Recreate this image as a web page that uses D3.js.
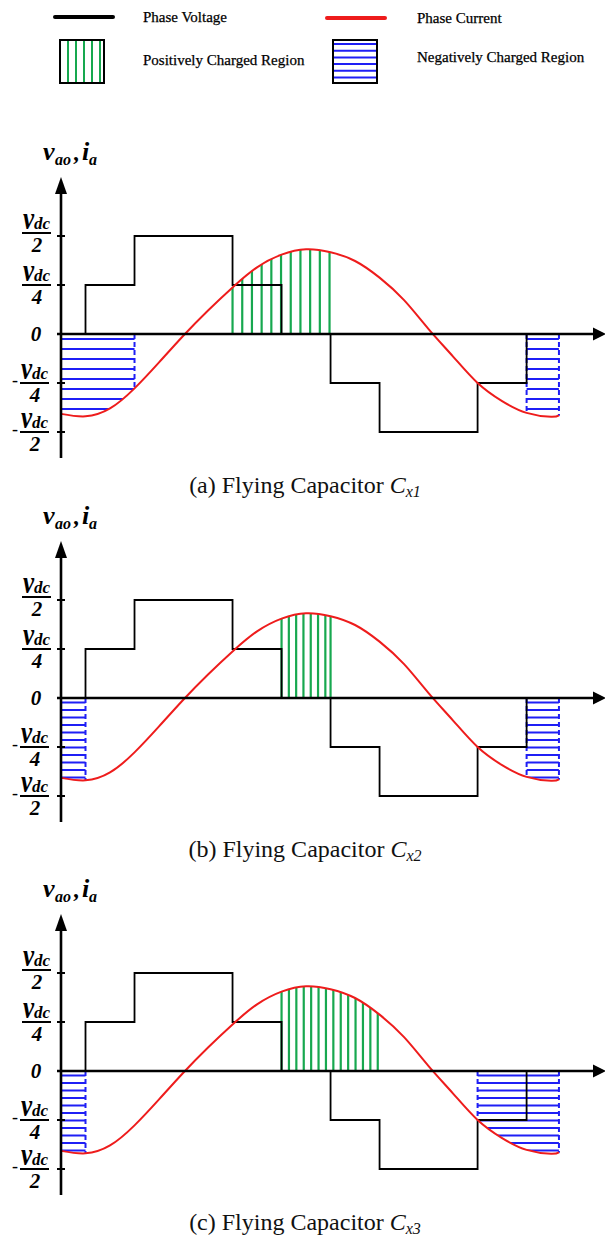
<!DOCTYPE html>
<html>
<head>
<meta charset="utf-8">
<script src="https://cdn.jsdelivr.net/npm/d3@7"></script>
<style>
  html, body { margin: 0; padding: 0; background: #fff; }
  svg { display: block; }
</style>
</head>
<body>
<svg id="chart" width="605" height="1241"></svg>
<script>
// ---------- data ----------
// Phase angle is measured in switching steps (one step = one dwell of a voltage level).
const voltageTimes  = [0, 0.5, 1.5, 3.5, 4.5, 5.5, 6.5, 8.5, 9.5, 10.16];
const voltageLevels = [0, 1, 2, 1, 0, -1, -2, -1, 0, 0];          // multiples of vdc/4

const currentTimes  = [0, 0.5, 1.0, 1.5, 2.0, 2.5, 3.0, 3.5, 4.0, 4.5, 5.0, 5.5,
                       6.0, 6.5, 7.0, 7.5, 8.0, 8.5, 9.0, 9.5, 10.0, 10.16];
const currentValues = [-1.63, -1.68, -1.52, -1.11, -0.58, -0.03, 0.48, 0.95, 1.36, 1.62, 1.73, 1.67,
                       1.49, 1.15, 0.69, 0.10, -0.46, -1.00, -1.37, -1.61, -1.69, -1.66];

const yTickValues = [2, 1, 0, -1, -2];
const yTickDenoms = ["2", "4", "", "4", "2"];

const panelLetters   = ["a", "b", "c"];
const capacitorIndex = ["1", "2", "3"];
const positiveSpans  = [[3.5, 5.5], [4.5, 5.5], [4.5, 6.5]];
const negativeSpans  = [[[0, 1.5], [9.5, 10.16]], [[0, 0.5], [9.5, 10.16]], [[0, 0.5], [8.5, 10.16]]];

const legendLabels = ["Phase Voltage", "Phase Current", "Positively Charged Region", "Negatively Charged Region"];

// ---------- styling / layout ----------
const BLACK = "#000", RED = "#ee1c1c", GREEN = "#17a84f", BLUE = "#1f1ff5";
const SERIF = "'Liberation Serif', 'Times New Roman', serif";
const zeroY = [334, 698, 1071];
const quarterPx = 49;
const hStep = [10, 7.5, 7.5], hOffset = [5, 4.5, 4.5];
const vStep = [9.7, 7.3, 7.4];

const svg = d3.select("#chart");
const x = d3.scaleLinear().domain([0, 11.12]).range([61, 606]);

// ---------- legend ----------
const legend = svg.append("g");
legend.append("line").attr("x1", 55).attr("x2", 113).attr("y1", 17).attr("y2", 17)
  .attr("stroke", BLACK).attr("stroke-width", 4).attr("stroke-linecap", "round");
legend.append("line").attr("x1", 327).attr("x2", 385).attr("y1", 18).attr("y2", 18)
  .attr("stroke", RED).attr("stroke-width", 4).attr("stroke-linecap", "round");

// positively charged swatch
legend.selectAll("line.gsw").data(d3.range(68, 103, 8)).join("line").attr("class", "gsw")
  .attr("x1", d => d).attr("x2", d => d).attr("y1", 40).attr("y2", 83)
  .attr("stroke", GREEN).attr("stroke-width", 2);
legend.append("rect").attr("x", 60).attr("y", 40).attr("width", 44).attr("height", 43)
  .attr("fill", "none").attr("stroke", BLACK).attr("stroke-width", 2);

// negatively charged swatch
legend.selectAll("line.bsw").data(d3.range(44, 82, 6.7)).join("line").attr("class", "bsw")
  .attr("x1", 333).attr("x2", 377).attr("y1", d => d).attr("y2", d => d)
  .attr("stroke", BLUE).attr("stroke-width", 2);
legend.append("rect").attr("x", 333).attr("y", 40).attr("width", 44).attr("height", 43)
  .attr("fill", "none").attr("stroke", BLACK).attr("stroke-width", 2);

const legendPos = [[143, 22], [417, 23], [143, 65], [417, 62]];
legend.selectAll("text").data(legendLabels).join("text")
  .attr("x", (d, i) => legendPos[i][0]).attr("y", (d, i) => legendPos[i][1])
  .attr("font-family", SERIF).attr("font-size", 15).attr("fill", "#000")
  .attr("stroke", "#000").attr("stroke-width", 0.25)
  .text(d => d);

// ---------- panels ----------
const currentPts = currentTimes.map((t, i) => [t, currentValues[i]]);
const voltagePts = voltageTimes.map((t, i) => [t, voltageLevels[i]]);

panelLetters.forEach((letter, k) => {
  const z = zeroY[k];
  const y = d3.scaleLinear().domain([-2, 2]).range([z + 2 * quarterPx, z - 2 * quarterPx]);
  const g = svg.append("g");

  const currentLine = d3.line().x(d => x(d[0])).y(d => y(d[1])).curve(d3.curveNatural);
  const currentArea = d3.area().x(d => x(d[0])).y0(y(0)).y1(d => y(d[1])).curve(d3.curveNatural);
  const voltageLine = d3.line().x(d => x(d[0])).y(d => y(d[1])).curve(d3.curveStepAfter);

  // region between the current and the time axis, used to bound the hatching
  const clipId = "charge-" + letter;
  svg.append("defs").append("clipPath").attr("id", clipId)
    .append("path").attr("d", currentArea(currentPts));

  const hatch = g.append("g").attr("clip-path", `url(#${clipId})`);

  // negatively charged regions: horizontal blue hatching
  negativeSpans[k].forEach(([s, e]) => {
    const rows = d3.range(y(0) + hOffset[k], y(-2.1), hStep[k]);
    hatch.selectAll(null).data(rows).join("line")
      .attr("x1", x(s)).attr("x2", x(e)).attr("y1", d => d).attr("y2", d => d)
      .attr("stroke", BLUE).attr("stroke-width", 2);
  });

  // positively charged region: vertical green hatching
  {
    const [s, e] = positiveSpans[k];
    const cols = d3.range(x(s), x(e) + 0.6, vStep[k]);
    if (x(e) - cols[cols.length - 1] > 2) cols.push(x(e));
    hatch.selectAll(null).data(cols).join("line")
      .attr("x1", d => d).attr("x2", d => d).attr("y1", y(0)).attr("y2", y(2.2))
      .attr("stroke", GREEN).attr("stroke-width", 2.2);
  }

  // phase current curve (raised above the staircase below; sampled here for region edges)
  const curPath = g.append("path").attr("d", currentLine(currentPts))
    .attr("fill", "none").attr("stroke", RED).attr("stroke-width", 2);
  const node = curPath.node();
  const len = node.getTotalLength();
  const samples = d3.range(0, len + 0.01, len / 800).map(l => node.getPointAtLength(Math.min(l, len)));
  samples.sort((a, b) => a.x - b.x);
  const bis = d3.bisector(p => p.x).left;
  const curveYAt = px => {
    const i = Math.max(1, Math.min(samples.length - 1, bis(samples, px)));
    const a = samples[i - 1], b = samples[i];
    const f = b.x === a.x ? 0 : (px - a.x) / (b.x - a.x);
    return a.y + f * (b.y - a.y);
  };

  // dashed boundaries of the negatively charged regions
  const edges = [];
  negativeSpans[k].forEach(([s, e]) => { if (s > 0) edges.push(s); edges.push(e); });
  g.selectAll(null).data(edges).join("line")
    .attr("x1", d => x(d)).attr("x2", d => x(d))
    .attr("y1", y(0)).attr("y2", d => curveYAt(Math.min(x(d), x(10.16) - 0.5)))
    .attr("stroke", BLUE).attr("stroke-width", 2).attr("stroke-dasharray", "5,3");

  // phase voltage staircase
  g.append("path").attr("d", voltageLine(voltagePts))
    .attr("fill", "none").attr("stroke", BLACK).attr("stroke-width", 1.8);

  curPath.raise();

  // axes
  const ax = g.append("g");
  ax.append("line").attr("x1", x(0)).attr("x2", x(0)).attr("y1", z + 124).attr("y2", z - 142)
    .attr("stroke", BLACK).attr("stroke-width", 2.6);
  ax.append("path").attr("d", `M${x(0) - 6},${z - 140} L${x(0)},${z - 157} L${x(0) + 6},${z - 140} Z`)
    .attr("fill", BLACK);
  ax.append("line").attr("x1", x(0) - 4).attr("x2", 596).attr("y1", y(0)).attr("y2", y(0))
    .attr("stroke", BLACK).attr("stroke-width", 2.6);
  ax.append("path").attr("d", `M593,${z - 6.5} L606,${z} L593,${z + 6.5} Z`).attr("fill", BLACK);

  ax.selectAll("line.tick").data(yTickValues.filter(v => v !== 0)).join("line").attr("class", "tick")
    .attr("x1", 57).attr("x2", 65).attr("y1", d => y(d)).attr("y2", d => y(d))
    .attr("stroke", BLACK).attr("stroke-width", 2);

  // tick labels: ±vdc/2, ±vdc/4, 0
  yTickValues.forEach((v, i) => {
    const ty = y(v);
    if (v === 0) {
      g.append("text").attr("x", 36).attr("y", ty + 7).attr("text-anchor", "middle")
        .attr("font-family", SERIF).attr("font-weight", "bold").attr("font-style", "italic")
        .attr("font-size", 21).text("0");
      return;
    }
    const neg = v < 0;
    const bar = ty + (v === 2 ? -3 : 0);
    const left = neg ? 20 : 22;
    const lab = g.append("g").attr("font-family", SERIF).attr("font-weight", "bold").attr("font-style", "italic");
    if (neg) {
      lab.append("text").attr("x", 12).attr("y", bar + 3).attr("font-size", 18)
        .attr("font-style", "normal").attr("font-weight", "normal").text("-");
    }
    lab.append("text").attr("transform", `translate(${left + 1},${bar - 4}) scale(1,1.25)`)
      .attr("font-size", 25).text("v");
    lab.append("text").attr("x", left + 12).attr("y", bar - 4).attr("font-size", 17).text("dc");
    lab.append("line").attr("x1", left).attr("x2", left + 29).attr("y1", bar).attr("y2", bar)
      .attr("stroke", BLACK).attr("stroke-width", 2);
    lab.append("text").attr("x", left + 15).attr("y", bar + 19).attr("text-anchor", "middle")
      .attr("font-size", 21).text(yTickDenoms[i]);
  });

  // axis title  v_ao , i_a
  const tb = z - 174;
  const title = g.append("g").attr("font-family", SERIF).attr("font-weight", "bold").attr("font-style", "italic");
  title.append("text").attr("x", 43).attr("y", tb).attr("font-size", 26).text("v");
  title.append("text").attr("x", 55).attr("y", tb + 5).attr("font-size", 16).text("ao");
  title.append("text").attr("x", 74).attr("y", tb).attr("font-size", 24).text(",");
  title.append("text").attr("x", 82).attr("y", tb).attr("font-size", 26).text("i");
  title.append("text").attr("x", 89).attr("y", tb + 5).attr("font-size", 16).text("a");

  // caption
  const cap = g.append("text").attr("x", 305).attr("y", z + 159).attr("text-anchor", "middle")
    .attr("font-family", SERIF).attr("font-size", 24).attr("fill", "#111");
  cap.append("tspan").text(`(${letter}) Flying Capacitor `);
  cap.append("tspan").attr("font-style", "italic").text("C");
  cap.append("tspan").attr("font-style", "italic").attr("font-size", 16).attr("dy", 4)
    .text("x" + capacitorIndex[k]);
});
</script>
</body>
</html>
